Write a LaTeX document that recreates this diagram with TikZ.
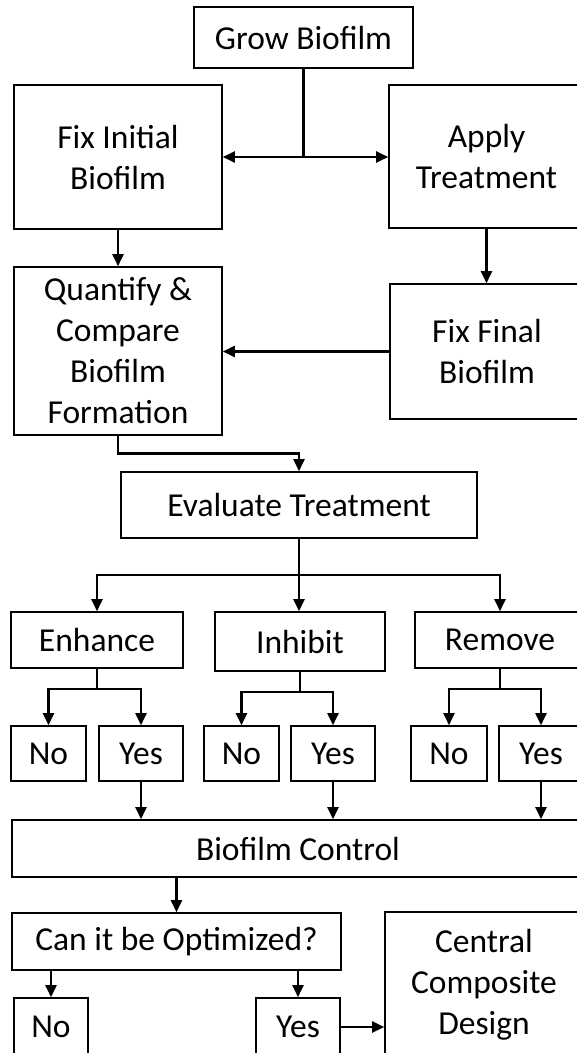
\documentclass[tikz,border=0pt]{standalone}
\usepackage{fontspec}
\setmainfont{Carlito}
\usetikzlibrary{arrows.meta,calc}

\tikzset{
  box/.style={draw, line width=1.6pt, align=center, inner sep=0pt, font=\fontsize{33.5}{41}\selectfont},
  ln/.style={line width=2.1pt},
  arr/.style={line width=2.1pt, -{Triangle[length=12pt,width=11pt]}},
}

\begin{document}
\begin{tikzpicture}[x=1pt,y=-1pt]
\useasboundingbox (0,0) rectangle (577,1053);
\clip (0,0) rectangle (577,1053);

% top part
\node[box, minimum width=219pt, minimum height=61pt] (grow) at (303.5,37.5) {Grow Biofilm};
\node[box, minimum width=208pt, minimum height=144pt] (fixinit) at (118,157) {Fix Initial\\Biofilm};
\node[box, minimum width=195pt, minimum height=143pt] (apply) at (486.5,156.5) {Apply\\Treatment};
\node[box, minimum width=208pt, minimum height=168pt] (quant) at (118,351) {Quantify \&\\Compare\\Biofilm\\Formation};
\node[box, minimum width=194pt, minimum height=135pt] (fixfinal) at (487,351.5) {Fix Final\\Biofilm};
\node[box, minimum width=356pt, minimum height=66pt] (eval) at (299,505) {Evaluate Treatment};

% outcomes
\node[box, minimum width=172pt, minimum height=56pt] (enh) at (97,640) {Enhance};
\node[box, minimum width=170pt, minimum height=59pt] (inh) at (300,641.5) {Inhibit};
\node[box, minimum width=170pt, minimum height=56pt] (rem) at (500,640) {Remove};
\node[box, minimum width=75pt, minimum height=55pt] (no1) at (48.5,753.5) {No};
\node[box, minimum width=84pt, minimum height=55pt] (yes1) at (141,753.5) {Yes};
\node[box, minimum width=75pt, minimum height=55pt] (no2) at (241.5,753.5) {No};
\node[box, minimum width=84pt, minimum height=55pt] (yes2) at (333,753.5) {Yes};
\node[box, minimum width=76pt, minimum height=55pt] (no3) at (449,753.5) {No};
\node[box, minimum width=84pt, minimum height=55pt] (yes3) at (541,753.5) {Yes};

% bottom part
\node[box, minimum width=572pt, minimum height=57pt] (ctrl) at (298,848.5) {Biofilm Control};
\node[box, minimum width=329pt, minimum height=57pt] (opt) at (176.5,941.5) {Can it be Optimized?};
\node[box, minimum width=74pt, minimum height=58pt] (no4) at (51,1027) {No};
\node[box, minimum width=84pt, minimum height=58pt] (yes4) at (298,1027) {Yes};
\node[box, minimum width=198pt, minimum height=146pt] (ccd) at (484,985) {Central\\Composite\\Design};

% arrows, top
\coordinate (j1) at (grow.south |- fixinit.east);
\draw[ln] (grow.south) -- (j1);
\draw[arr] (j1) -- (fixinit.east);
\draw[arr] (j1) -- (j1 -| apply.west);
\draw[arr] (fixinit.south) -- (quant.north);
\draw[arr] (apply.south) -- (apply.south |- fixfinal.north);
\draw[arr] (fixfinal.west) -- (fixfinal.west -| quant.east);
\draw[arr] (quant.south) |- ($(quant.south)!.5!(eval.north)$) -| (eval.north);

% arrows, outcomes
\coordinate (j2) at ($(eval.south)!.5!(eval.south |- inh.north)$);
\draw[arr] (eval.south) -- (eval.south |- inh.north);
\draw[arr] (j2) -| (enh.north);
\draw[arr] (j2) -| (rem.north);
\coordinate (j3) at ($(enh.south)+(0,20)$);
\draw[ln] (enh.south) -- (j3);
\draw[arr] (j3) -| (no1.north);
\draw[arr] (j3) -| (yes1.north);
\coordinate (j4) at ($(inh.south)+(0,20)$);
\draw[ln] (inh.south) -- (j4);
\draw[arr] (j4) -| (no2.north);
\draw[arr] (j4) -| (yes2.north);
\coordinate (j5) at ($(rem.south)+(0,20)$);
\draw[ln] (rem.south) -- (j5);
\draw[arr] (j5) -| (no3.north);
\draw[arr] (j5) -| (yes3.north);

% arrows, bottom
\draw[arr] (yes1.south) -- (yes1.south |- ctrl.north);
\draw[arr] (yes2.south) -- (yes2.south |- ctrl.north);
\draw[arr] (yes3.south) -- (yes3.south |- ctrl.north);
\draw[arr] (opt.north |- ctrl.south) -- (opt.north);
\draw[arr] (no4.north |- opt.south) -- (no4.north);
\draw[arr] (yes4.north |- opt.south) -- (yes4.north);
\draw[arr] (yes4.east) -- (yes4.east -| ccd.west);

\end{tikzpicture}
\end{document}
